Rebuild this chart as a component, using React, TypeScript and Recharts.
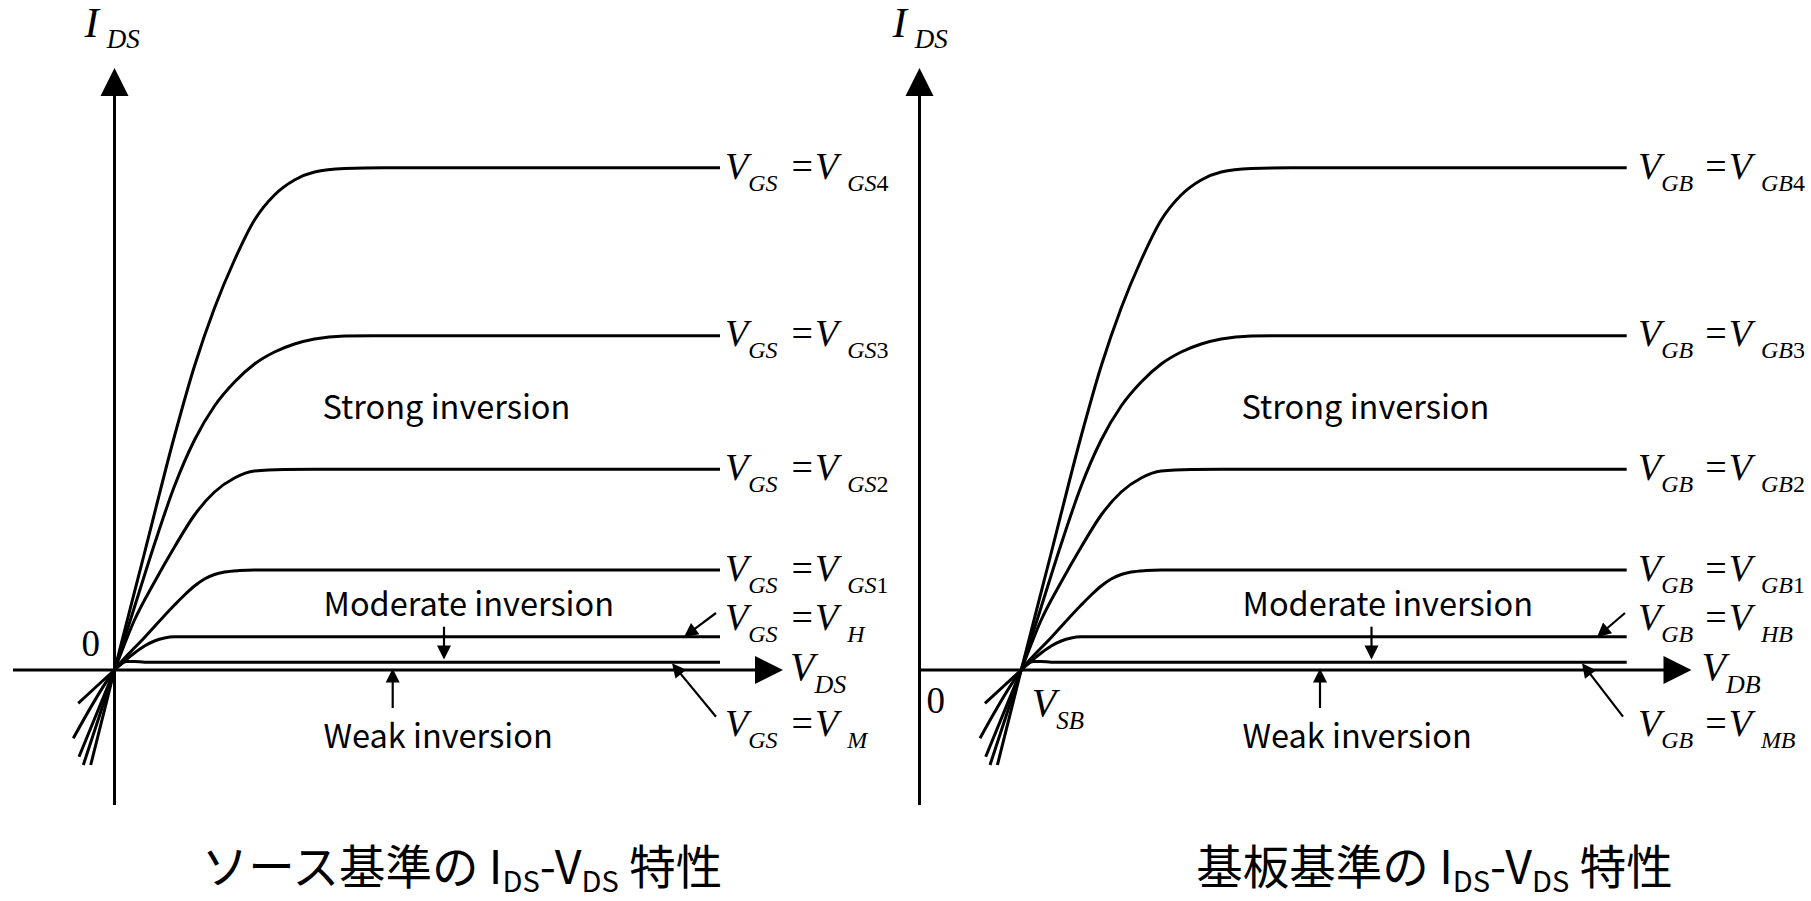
import React from 'react';
import { LineChart, Line, XAxis, YAxis, ReferenceLine, ReferenceDot } from 'recharts';

type Pt = { x: number; y: number };

// I_DS versus V_DS, source-referenced (arbitrary units). Negative-x points are the reverse-mode tails.
const curveGS4: Pt[] = [
  { x: -0.238, y: -0.95 }, { x: 0, y: 0 }, { x: 0.3, y: 1.17 }, { x: 0.6, y: 2.34 }, { x: 0.8, y: 3.04 },
  { x: 1.0, y: 3.62 }, { x: 1.2, y: 4.1 }, { x: 1.4, y: 4.5 }, { x: 1.6, y: 4.75 }, { x: 1.8, y: 4.9 },
  { x: 2.0, y: 4.98 }, { x: 2.3, y: 5.015 }, { x: 2.7, y: 5.023 }, { x: 6.055, y: 5.023 },
];
const curveGS3: Pt[] = [
  { x: -0.312, y: -0.95 }, { x: 0, y: 0 }, { x: 0.2, y: 0.63 }, { x: 0.4, y: 1.26 }, { x: 0.6, y: 1.84 },
  { x: 0.8, y: 2.3 }, { x: 1.0, y: 2.64 }, { x: 1.2, y: 2.88 }, { x: 1.4, y: 3.06 }, { x: 1.6, y: 3.18 },
  { x: 1.8, y: 3.26 }, { x: 2.0, y: 3.31 }, { x: 2.3, y: 3.34 }, { x: 2.6, y: 3.343 }, { x: 6.055, y: 3.343 },
];
const curveGS2: Pt[] = [
  { x: -0.355, y: -0.867 }, { x: 0, y: 0 }, { x: 0.2, y: 0.5 }, { x: 0.4, y: 0.88 }, { x: 0.6, y: 1.23 },
  { x: 0.8, y: 1.55 }, { x: 1.0, y: 1.78 }, { x: 1.2, y: 1.92 }, { x: 1.4, y: 1.99 }, { x: 1.7, y: 2.005 },
  { x: 2.0, y: 2.007 }, { x: 6.055, y: 2.007 },
];
const curveGS1: Pt[] = [
  { x: -0.412, y: -0.683 }, { x: 0, y: 0 }, { x: 0.3, y: 0.325 }, { x: 0.6, y: 0.65 }, { x: 0.7, y: 0.75 },
  { x: 0.8, y: 0.84 }, { x: 0.9, y: 0.91 }, { x: 1.0, y: 0.955 }, { x: 1.1, y: 0.98 }, { x: 1.25, y: 0.995 },
  { x: 1.4, y: 1.0 }, { x: 6.055, y: 1.0 },
];
const curveH: Pt[] = [
  { x: -0.362, y: -0.333 }, { x: 0, y: 0 }, { x: 0.1, y: 0.09 }, { x: 0.2, y: 0.17 }, { x: 0.3, y: 0.24 },
  { x: 0.4, y: 0.29 }, { x: 0.5, y: 0.32 }, { x: 0.6, y: 0.332 }, { x: 0.7, y: 0.333 }, { x: 6.055, y: 0.333 },
];
const curveM: Pt[] = [
  { x: 0, y: 0 }, { x: 0.12, y: 0.085 }, { x: 0.2, y: 0.085 }, { x: 0.3, y: 0.078 }, { x: 6.055, y: 0.078 },
];
const curves = [curveGS4, curveGS3, curveGS2, curveGS1, curveH, curveM];

// Source-to-bulk voltage: the substrate-referenced curves start here on the V_DB axis
const V_SB = 1.017;

// Curve-end label rows (baseline y) and subscript names
const labelRowsY = [4.91, 3.24, 1.9, 0.89, 0.4, -0.66];
const sourceSubs = ['GS4', 'GS3', 'GS2', 'GS1', 'H', 'M'];
const bulkSubs = ['GB4', 'GB3', 'GB2', 'GB1', 'HB', 'MB'];

const X_DOMAIN: [number, number] = [-1.145, 8.905];
const Y_DOMAIN: [number, number] = [-2.31, 6.7];

const SERIF = "'Liberation Serif','Times New Roman',serif";
const SANS = "'Noto Sans CJK JP','Noto Sans',sans-serif";

type Run = { t: string; sub?: boolean; italic?: boolean; dx?: number };

const MathText = ({ cx, cy, runs, size, subSize, subShift, family = SERIF, anchor = 'start' }: any) => {
  let inSub = false;
  return (
    <text x={cx} y={cy} fontFamily={family} fontSize={size} fill="#000" textAnchor={anchor}>
      {runs.map((r: Run, i: number) => {
        let dy = 0;
        if (r.sub && !inSub) dy = subShift;
        if (!r.sub && inSub) dy = -subShift;
        inSub = !!r.sub;
        return (
          <tspan key={i} dx={r.dx ?? 0} dy={dy} fontSize={r.sub ? subSize : size} fontStyle={r.italic ? 'italic' : 'normal'}>
            {r.t}
          </tspan>
        );
      })}
    </text>
  );
};

const arrowShape = (head: number, half: number, width: number) => (p: any) => {
  const { x1, y1, x2, y2 } = p;
  const dx = x2 - x1;
  const dy = y2 - y1;
  const len = Math.hypot(dx, dy) || 1;
  const ux = dx / len;
  const uy = dy / len;
  const bx = x2 - ux * head;
  const by = y2 - uy * head;
  const px = -uy * half;
  const py = ux * half;
  return (
    <g>
      <line x1={x1} y1={y1} x2={bx + ux} y2={by + uy} stroke="#000" strokeWidth={width} />
      <polygon points={`${x2},${y2} ${bx + px},${by + py} ${bx - px},${by - py}`} fill="#000" />
    </g>
  );
};

const axisArrow = arrowShape(28, 14, 3);
const noteArrow = arrowShape(14, 7, 2.2);

const gateLabel = (gate: string, sub: string, gap: number): Run[] => [
  { t: 'V', italic: true },
  { t: gate, sub: true, italic: true },
  { t: '=', dx: gap },
  { t: 'V', italic: true, dx: 2 },
  { t: sub.replace(/\d$/, ''), sub: true, italic: true, dx: 9 },
  { t: /\d$/.test(sub) ? sub.slice(-1) : '', sub: true },
];

type PanelCfg = {
  shift: number;
  gate: string;
  subs: string[];
  labelX: number;
  labelGap: number;
  xAxis: [number, number];
  xLabel: Run[];
  xLabelPos: Pt;
  yLabelPos: Pt;
  zeroPos: Pt;
  vsbPos?: Pt;
  strongX: number;
  moderateX: number;
  weakX: number;
  modArrowX: number;
  weakArrowX: number;
  hArrow: [Pt, Pt];
  mArrow: [Pt, Pt];
  title: Run[];
  titleX: number;
};

const Panel = ({ cfg }: { cfg: PanelCfg }) => (
  <LineChart width={1005} height={901} margin={{ top: 0, right: 0, bottom: 0, left: 0 }}>
    <XAxis type="number" dataKey="x" domain={X_DOMAIN} allowDataOverflow hide />
    <YAxis type="number" dataKey="y" domain={Y_DOMAIN} allowDataOverflow hide />
    <ReferenceLine ifOverflow="visible" segment={[{ x: cfg.xAxis[0], y: 0 }, { x: cfg.xAxis[1], y: 0 }]} shape={axisArrow} />
    <ReferenceLine ifOverflow="visible" segment={[{ x: 0, y: -1.35 }, { x: 0, y: 6.02 }]} shape={axisArrow} />
    {curves.map((c, i) => (
      <Line
        key={i}
        data={c.map((p) => ({ x: p.x + cfg.shift, y: p.y }))}
        dataKey="y"
        type="monotone"
        stroke="#000"
        strokeWidth={3}
        dot={false}
        activeDot={false}
        isAnimationActive={false}
      />
    ))}
    <ReferenceLine ifOverflow="visible" segment={[{ x: cfg.modArrowX, y: 0.433 }, { x: cfg.modArrowX, y: 0.105 }]} shape={noteArrow} />
    <ReferenceLine ifOverflow="visible" segment={[{ x: cfg.weakArrowX, y: -0.38 }, { x: cfg.weakArrowX, y: 0.015 }]} shape={noteArrow} />
    <ReferenceLine ifOverflow="visible" segment={cfg.hArrow} shape={noteArrow} />
    <ReferenceLine ifOverflow="visible" segment={cfg.mArrow} shape={noteArrow} />
    {cfg.subs.map((s, i) => (
      <ReferenceDot
        key={s}
        x={cfg.labelX}
        y={labelRowsY[i]}
        r={0}
        ifOverflow="visible"
        shape={(p: any) => <MathText cx={p.cx} cy={p.cy} runs={gateLabel(cfg.gate, s, cfg.labelGap)} size={38} subSize={24} subShift={12} />}
      />
    ))}
    <ReferenceDot x={cfg.xLabelPos.x} y={cfg.xLabelPos.y} r={0} ifOverflow="visible"
      shape={(p: any) => <MathText cx={p.cx} cy={p.cy} runs={cfg.xLabel} size={40} subSize={26} subShift={13} />} />
    <ReferenceDot x={cfg.yLabelPos.x} y={cfg.yLabelPos.y} r={0} ifOverflow="visible"
      shape={(p: any) => (
        <MathText cx={p.cx} cy={p.cy} runs={[{ t: 'I', italic: true }, { t: 'DS', sub: true, italic: true, dx: 8 }]} size={43} subSize={27} subShift={11} />
      )} />
    <ReferenceDot x={cfg.zeroPos.x} y={cfg.zeroPos.y} r={0} ifOverflow="visible"
      shape={(p: any) => <MathText cx={p.cx} cy={p.cy} runs={[{ t: '0' }]} size={37} subSize={24} subShift={0} />} />
    {cfg.vsbPos && (
      <ReferenceDot x={cfg.vsbPos.x} y={cfg.vsbPos.y} r={0} ifOverflow="visible"
        shape={(p: any) => (
          <MathText cx={p.cx} cy={p.cy} runs={[{ t: 'V', italic: true }, { t: 'SB', sub: true, italic: true }]} size={40} subSize={25} subShift={13} />
        )} />
    )}
    <ReferenceDot x={cfg.strongX} y={2.51} r={0} ifOverflow="visible"
      shape={(p: any) => <MathText cx={p.cx} cy={p.cy} family={SANS} runs={[{ t: 'Strong inversion' }]} size={32.5} subSize={24} subShift={0} />} />
    <ReferenceDot x={cfg.moderateX} y={0.54} r={0} ifOverflow="visible"
      shape={(p: any) => <MathText cx={p.cx} cy={p.cy} family={SANS} runs={[{ t: 'Moderate inversion' }]} size={32.5} subSize={24} subShift={0} />} />
    <ReferenceDot x={cfg.weakX} y={-0.78} r={0} ifOverflow="visible"
      shape={(p: any) => <MathText cx={p.cx} cy={p.cy} family={SANS} runs={[{ t: 'Weak inversion' }]} size={32.5} subSize={24} subShift={0} />} />
    <ReferenceDot x={cfg.titleX} y={-2.14} r={0} ifOverflow="visible"
      shape={(p: any) => <MathText cx={p.cx} cy={p.cy} family={SANS} anchor="middle" runs={cfg.title} size={46.5} subSize={29} subShift={8} />} />
  </LineChart>
);

const sourcePanel: PanelCfg = {
  shift: 0,
  gate: 'GS',
  subs: sourceSubs,
  labelX: 6.105,
  labelGap: 14,
  xAxis: [-1.015, 6.685],
  xLabel: [{ t: 'V', italic: true }, { t: 'DS', sub: true, italic: true }],
  xLabelPos: { x: 6.755, y: -0.1 },
  yLabelPos: { x: -0.3, y: 6.33 },
  zeroPos: { x: -0.33, y: 0.14 },
  strongX: 2.08,
  moderateX: 2.09,
  weakX: 2.09,
  modArrowX: 3.295,
  weakArrowX: 2.782,
  hArrow: [{ x: 6.015, y: 0.57 }, { x: 5.695, y: 0.33 }],
  mArrow: [{ x: 6.015, y: -0.467 }, { x: 5.575, y: 0.067 }],
  title: [{ t: 'ソース基準の ' }, { t: 'I' }, { t: 'DS', sub: true }, { t: '-V' }, { t: 'DS', sub: true }, { t: ' 特性' }],
  titleX: 3.475,
};

const bulkPanel: PanelCfg = {
  shift: V_SB,
  gate: 'GB',
  subs: bulkSubs,
  labelX: 7.185,
  labelGap: 12,
  xAxis: [0, 7.72],
  xLabel: [{ t: 'V', italic: true }, { t: 'DB', sub: true, italic: true }],
  xLabelPos: { x: 7.82, y: -0.1 },
  yLabelPos: { x: -0.27, y: 6.33 },
  zeroPos: { x: 0.07, y: -0.43 },
  vsbPos: { x: 1.122, y: -0.46 },
  strongX: 3.22,
  moderateX: 3.23,
  weakX: 3.23,
  modArrowX: 4.52,
  weakArrowX: 4.005,
  hArrow: [{ x: 7.055, y: 0.57 }, { x: 6.775, y: 0.33 }],
  mArrow: [{ x: 7.035, y: -0.467 }, { x: 6.625, y: 0.067 }],
  title: [{ t: '基板基準の ' }, { t: 'I' }, { t: 'DS', sub: true }, { t: '-V' }, { t: 'DS', sub: true }, { t: ' 特性' }],
  titleX: 5.15,
};

export default function App() {
  return (
    <div style={{ position: 'absolute', left: 0, top: 0, width: 1811, height: 901, background: '#fff', overflow: 'hidden' }}>
      <div style={{ position: 'absolute', left: 0, top: 0 }}>
        <Panel cfg={sourcePanel} />
      </div>
      <div style={{ position: 'absolute', left: 805, top: 0 }}>
        <Panel cfg={bulkPanel} />
      </div>
    </div>
  );
}
